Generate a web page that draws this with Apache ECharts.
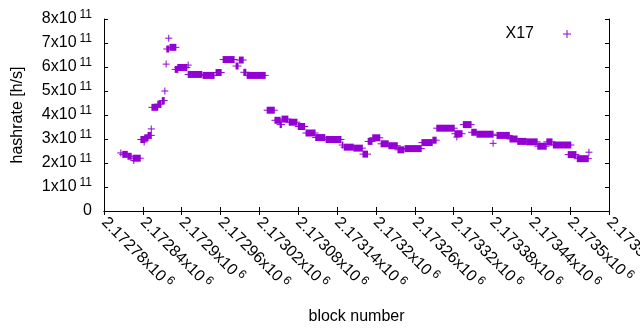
<!DOCTYPE html>
<html>
<head>
<meta charset="utf-8">
<script src="https://cdn.jsdelivr.net/npm/echarts@6/dist/echarts.min.js"></script>
<style>
  html, body { margin: 0; padding: 0; background: #fff; }
  #chart { width: 640px; height: 330px; }
</style>
</head>
<body>
<div id="chart"></div>
<script>
// runs of blocks that share one hashrate estimate (start block, end block, value in h/s)
var runStart = [2172806, 2172809, 2172817, 2172825, 2172826, 2172837, 2172842, 2172843, 2172848, 2172853,
  2172854, 2172863, 2172870, 2172874, 2172876, 2172877, 2172880, 2172882, 2172890, 2172894,
  2172910, 2172910, 2172933, 2172953, 2172964, 2172984, 2172989, 2172996, 2173001, 2173032,
  2173044, 2173052, 2173055, 2173066, 2173080, 2173092, 2173107, 2173123, 2173148, 2173151,
  2173166, 2173180, 2173188, 2173195, 2173208, 2173220, 2173234, 2173245, 2173271, 2173288,
  2173294, 2173322, 2173325, 2173335, 2173348, 2173356, 2173381, 2173387, 2173407, 2173419,
  2173433, 2173450, 2173464, 2173474, 2173497, 2173511, 2173529];
var runEnd = [2172806, 2172816, 2172822, 2172836, 2172826, 2172843, 2172842, 2172848, 2172853, 2172853,
  2172863, 2172868, 2172873, 2172874, 2172876, 2172880, 2172880, 2172891, 2172894, 2172908,
  2172910, 2172931, 2172950, 2172961, 2172981, 2172987, 2172995, 2172999, 2173029, 2173043,
  2173052, 2173054, 2173064, 2173078, 2173090, 2173106, 2173121, 2173146, 2173149, 2173165,
  2173179, 2173187, 2173194, 2173206, 2173219, 2173233, 2173243, 2173270, 2173287, 2173293,
  2173321, 2173333, 2173325, 2173347, 2173355, 2173381, 2173381, 2173406, 2173418, 2173432,
  2173449, 2173463, 2173472, 2173501, 2173509, 2173528, 2173529];
var runHashrate = [2.42e11, 2.36e11, 2.28e11, 2.2e11, 2.1e11, 2.98e11, 2.88e11, 3.05e11, 3.15e11, 3.42e11,
  4.32e11, 4.45e11, 4.6e11, 5.0e11, 6.12e11, 6.75e11, 7.2e11, 6.82e11, 5.9e11, 5.98e11,
  6.08e11, 5.69e11, 5.65e11, 5.77e11, 6.31e11, 6.04e11, 6.29e11, 5.78e11, 5.65e11, 4.2e11,
  3.78e11, 3.6e11, 3.83e11, 3.7e11, 3.52e11, 3.25e11, 3.06e11, 2.98e11, 2.75e11, 2.66e11,
  2.62e11, 2.37e11, 2.9e11, 3.05e11, 2.8e11, 2.72e11, 2.55e11, 2.6e11, 2.85e11, 2.95e11,
  3.45e11, 3.22e11, 3.08e11, 3.6e11, 3.28e11, 3.2e11, 2.82e11, 3.15e11, 3.0e11, 2.9e11,
  2.88e11, 2.7e11, 2.88e11, 2.75e11, 2.35e11, 2.18e11, 2.45e11];

var xMin = 2172780, xMax = 2173560, xStep = 60;
var yMin = 0, yMax = 8e11, yStep = 1e11;

var purple = '#9400D3';
var font = 'Liberation Sans';

var runs = runStart.map(function (s, i) {
  return [s, runEnd[i], runHashrate[i]];
});

var supRich = {
  m: { fontSize: 16, lineHeight: 20, color: '#000', fontFamily: font },
  s: { fontSize: 12, lineHeight: 12, verticalAlign: 'top', padding: [0, 0, 0, 3], color: '#000', fontFamily: font }
};

// gnuplot "+" points, drawn as one block per run
function renderRun(params, api) {
  var a = api.coord([api.value(0), api.value(2)]);
  var b = api.coord([api.value(1), api.value(2)]);
  var c = api.visual('color');
  return {
    type: 'group',
    children: [
      { type: 'rect', shape: { x: a[0] - 0.5, y: a[1] - 3.5, width: b[0] - a[0] + 1, height: 7 }, style: { fill: c } },
      { type: 'line', shape: { x1: a[0] - 3.5, y1: a[1], x2: b[0] + 3.5, y2: a[1] }, style: { stroke: c, lineWidth: 1 } }
    ]
  };
}

var myChart = echarts.init(document.getElementById('chart'), null, { renderer: 'canvas' });

var option = {
  animation: false,
  textStyle: { fontFamily: font, color: '#000' },
  grid: { left: 104, right: 31, top: 19, bottom: 119, outerBoundsMode: 'none', containLabel: false },
  legend: {
    right: 64,
    top: 21,
    align: 'right',
    itemWidth: 8,
    itemHeight: 8,
    textStyle: { fontSize: 16, color: '#000', fontFamily: font, padding: [0, 24, 0, 0] },
    data: [{ name: 'X17', icon: 'path://M0,3.5H8V4.5H0Z M3.5,0H4.5V8H3.5Z' }]
  },
  xAxis: [{
    type: 'value',
    min: xMin,
    max: xMax,
    interval: xStep,
    name: 'block number',
    nameLocation: 'middle',
    nameGap: 98,
    nameTextStyle: { fontSize: 16, color: '#000', fontFamily: font },
    splitLine: { show: false },
    axisLine: { lineStyle: { color: '#000', width: 1 } },
    axisTick: { inside: true, length: 4, lineStyle: { color: '#000' } },
    axisLabel: {
      rotate: -45,
      margin: 9,
      interval: 0,
      hideOverlap: false,
      showMinLabel: true,
      showMaxLabel: true,
      formatter: function (v) {
        return '{m|' + parseFloat((v / 1e6).toPrecision(6)) + 'x10}{s|6}';
      },
      rich: supRich
    }
  }, {
    type: 'value',
    position: 'top',
    min: xMin,
    max: xMax,
    interval: xStep,
    splitLine: { show: false },
    axisLine: { lineStyle: { color: '#000', width: 1 } },
    axisTick: { inside: true, length: 4, lineStyle: { color: '#000' } },
    axisLabel: { show: false }
  }],
  yAxis: [{
    type: 'value',
    min: yMin,
    max: yMax,
    interval: yStep,
    name: 'hashrate [h/s]',
    nameLocation: 'middle',
    nameRotate: 90,
    nameGap: 78,
    nameTextStyle: { fontSize: 16, color: '#000', fontFamily: font },
    splitLine: { show: false },
    axisLine: { show: true, lineStyle: { color: '#000', width: 1 } },
    axisTick: { show: true, inside: true, length: 4, lineStyle: { color: '#000' } },
    axisLabel: {
      margin: 12,
      formatter: function (v) {
        if (v === 0) return '{m|0}';
        return '{m|' + Math.round(v / 1e11) + 'x10}{s|11}';
      },
      rich: supRich
    }
  }, {
    type: 'value',
    position: 'right',
    min: yMin,
    max: yMax,
    interval: yStep,
    splitLine: { show: false },
    axisLine: { show: true, lineStyle: { color: '#000', width: 1 } },
    axisTick: { show: true, inside: true, length: 4, lineStyle: { color: '#000' } },
    axisLabel: { show: false }
  }],
  series: [{
    name: 'X17',
    type: 'custom',
    xAxisIndex: 0,
    yAxisIndex: 0,
    itemStyle: { color: purple },
    encode: { x: [0, 1], y: 2 },
    renderItem: renderRun,
    data: runs
  }]
};

myChart.setOption(option);
</script>
</body>
</html>
